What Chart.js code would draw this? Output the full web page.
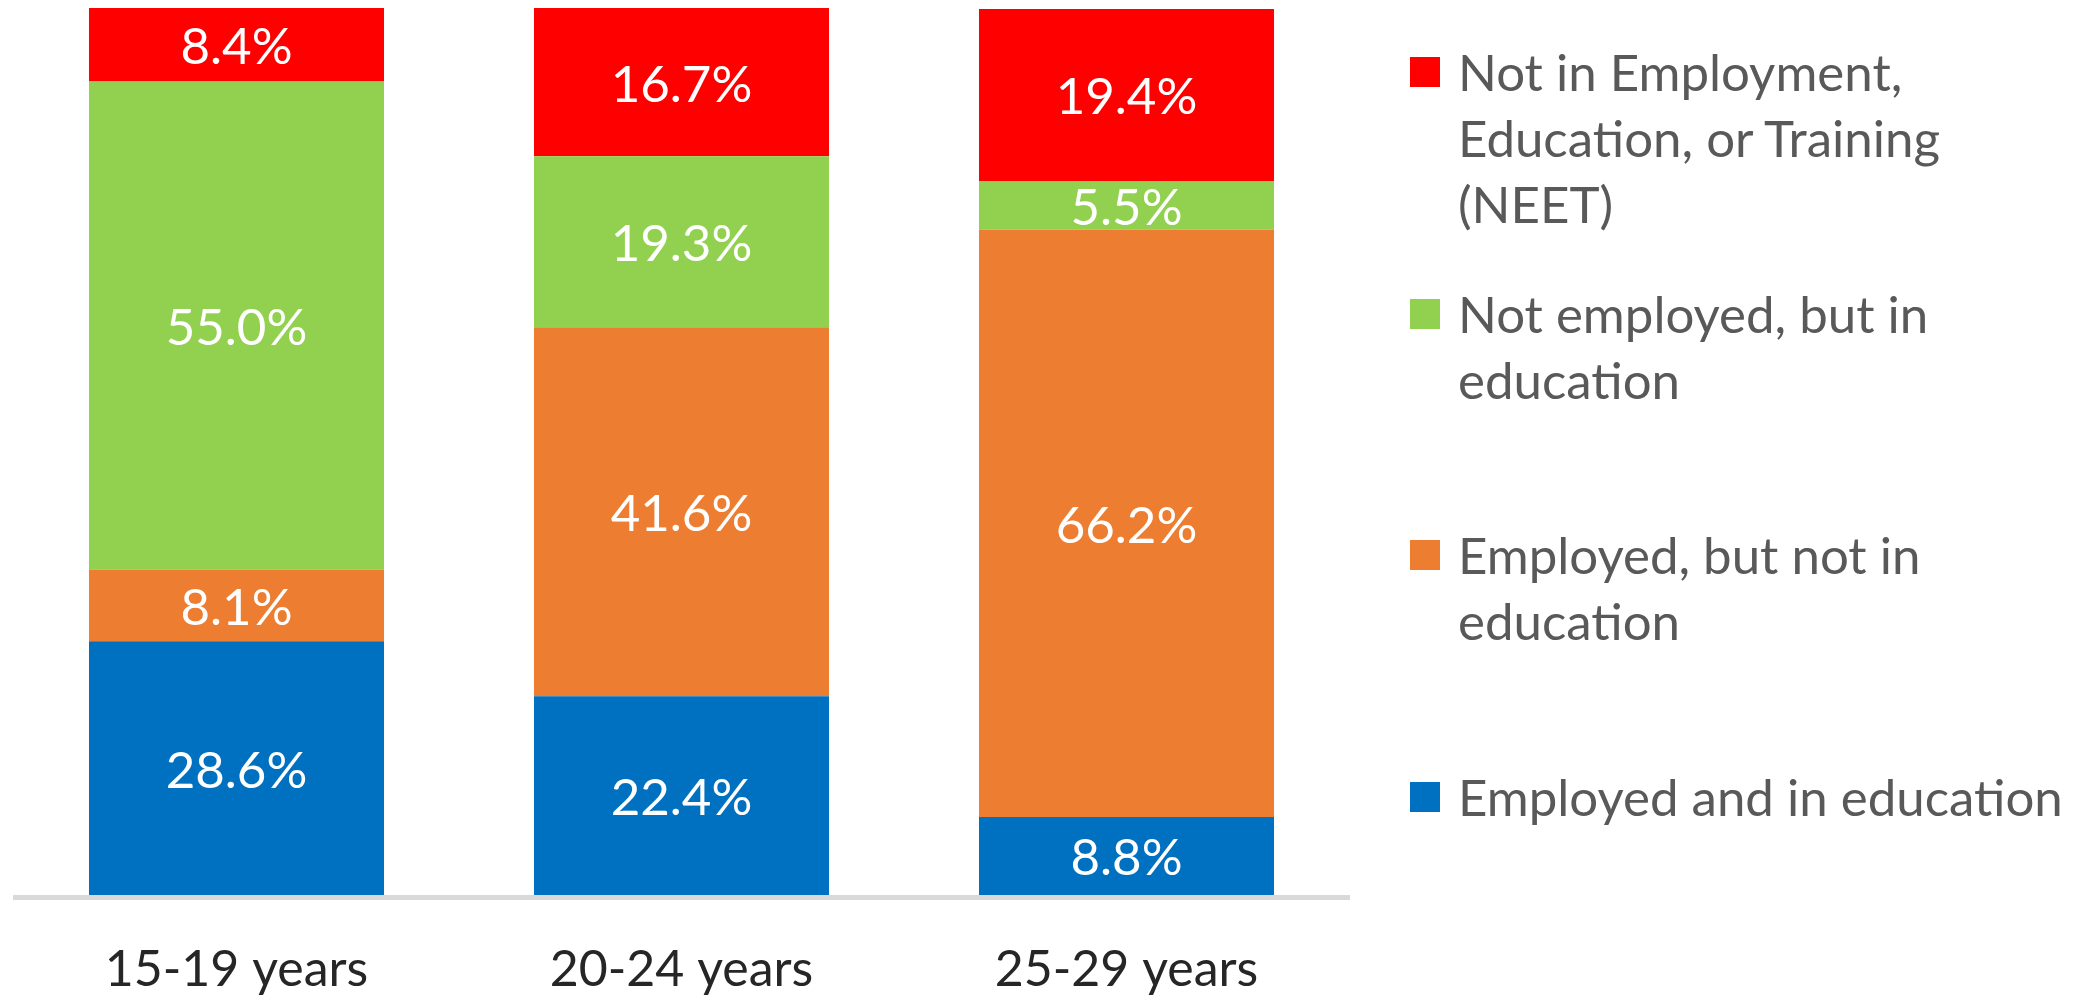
<!DOCTYPE html>
<html>
<head>
<meta charset="utf-8">
<script src="https://cdn.jsdelivr.net/npm/chart.js@4/dist/chart.umd.min.js"></script>
<style>
  html, body { margin: 0; padding: 0; background: #fff; overflow: hidden; }
  #wrap { position: relative; width: 2097px; height: 996px; overflow: hidden; }
  #legend { position: absolute; left: 1410px; top: 39px; font-family: Lato, sans-serif; font-size: 51px; color: #595959; }
  .item { position: relative; height: 241.5px; }
  .box { position: absolute; left: 0; top: 18px; width: 30px; height: 30px; }
  .txt { position: absolute; left: 48px; top: 0; line-height: 66px; white-space: pre; }
</style>
</head>
<body>
<div id="wrap">
  <canvas id="youthChart" width="2097" height="1045"></canvas>
  <div id="legend"></div>
</div>
<script>
// age groups on the x axis
const ageGroups = ['15-19 years', '20-24 years', '25-29 years'];

// shares in percent, bottom to top of each bar
const employedInEdu = [28.6, 22.4, 8.8];
const employedNotEdu = [8.1, 41.6, 66.2];
const notEmployedInEdu = [55.0, 19.3, 5.5];
const neet = [8.4, 16.7, 19.4];

const seriesNames = [
  'Employed and in education',
  'Employed, but not in\neducation',
  'Not employed, but in\neducation',
  'Not in Employment,\nEducation, or Training\n(NEET)'
];
const seriesColors = ['#0070C0', '#ED7D31', '#92D050', '#FF0000'];
const seriesData = [employedInEdu, employedNotEdu, notEmployedInEdu, neet];

const FONT = 'Lato, sans-serif';

// white % labels centred in every segment
const segmentLabels = {
  id: 'segmentLabels',
  afterDatasetsDraw(chart) {
    const ctx = chart.ctx;
    ctx.save();
    ctx.fillStyle = '#ffffff';
    ctx.font = '51px ' + FONT;
    ctx.textAlign = 'center';
    ctx.textBaseline = 'middle';
    chart.data.datasets.forEach((ds, i) => {
      chart.getDatasetMeta(i).data.forEach((bar, j) => {
        const y = (bar.y + bar.base) / 2;
        ctx.fillText(ds.data[j].toFixed(1) + '%', bar.x, y + 3);
      });
    });
    ctx.restore();
  }
};

// thick grey baseline under the bars
const baseLine = {
  id: 'baseLine',
  beforeDatasetsDraw(chart) {
    const a = chart.chartArea;
    const ctx = chart.ctx;
    ctx.save();
    ctx.fillStyle = '#d9d9d9';
    ctx.fillRect(a.left - 1, a.bottom, a.right - a.left + 2, 5);
    ctx.restore();
  }
};

const ctx = document.getElementById('youthChart').getContext('2d');
const youthChart = new Chart(ctx, {
  type: 'bar',
  data: {
    labels: ageGroups,
    datasets: seriesData.map((d, i) => ({
      label: seriesNames[i],
      data: d,
      backgroundColor: seriesColors[i],
      borderWidth: 0,
      barPercentage: 0.663,
      categoryPercentage: 1.0
    }))
  },
  options: {
    responsive: false,
    devicePixelRatio: 1,
    animation: false,
    layout: { padding: { left: 14, right: 748, top: 8, bottom: 0 } },
    plugins: {
      legend: { display: false },
      tooltip: { enabled: false }
    },
    scales: {
      x: {
        stacked: true,
        grid: { display: false, drawTicks: false },
        border: { display: false },
        ticks: { color: '#262626', font: { family: FONT, size: 50 }, padding: 45 }
      },
      y: {
        stacked: true,
        display: false,
        min: 0,
        max: 100
      }
    }
  },
  plugins: [segmentLabels, baseLine]
});

// legend, top entry = top segment
const legendEl = document.getElementById('legend');
for (let i = seriesNames.length - 1; i >= 0; i--) {
  const item = document.createElement('div');
  item.className = 'item';
  item.innerHTML = '<div class="box" style="background:' + seriesColors[i] + '"></div><div class="txt"></div>';
  item.querySelector('.txt').textContent = seriesNames[i];
  legendEl.appendChild(item);
}
</script>
</body>
</html>
